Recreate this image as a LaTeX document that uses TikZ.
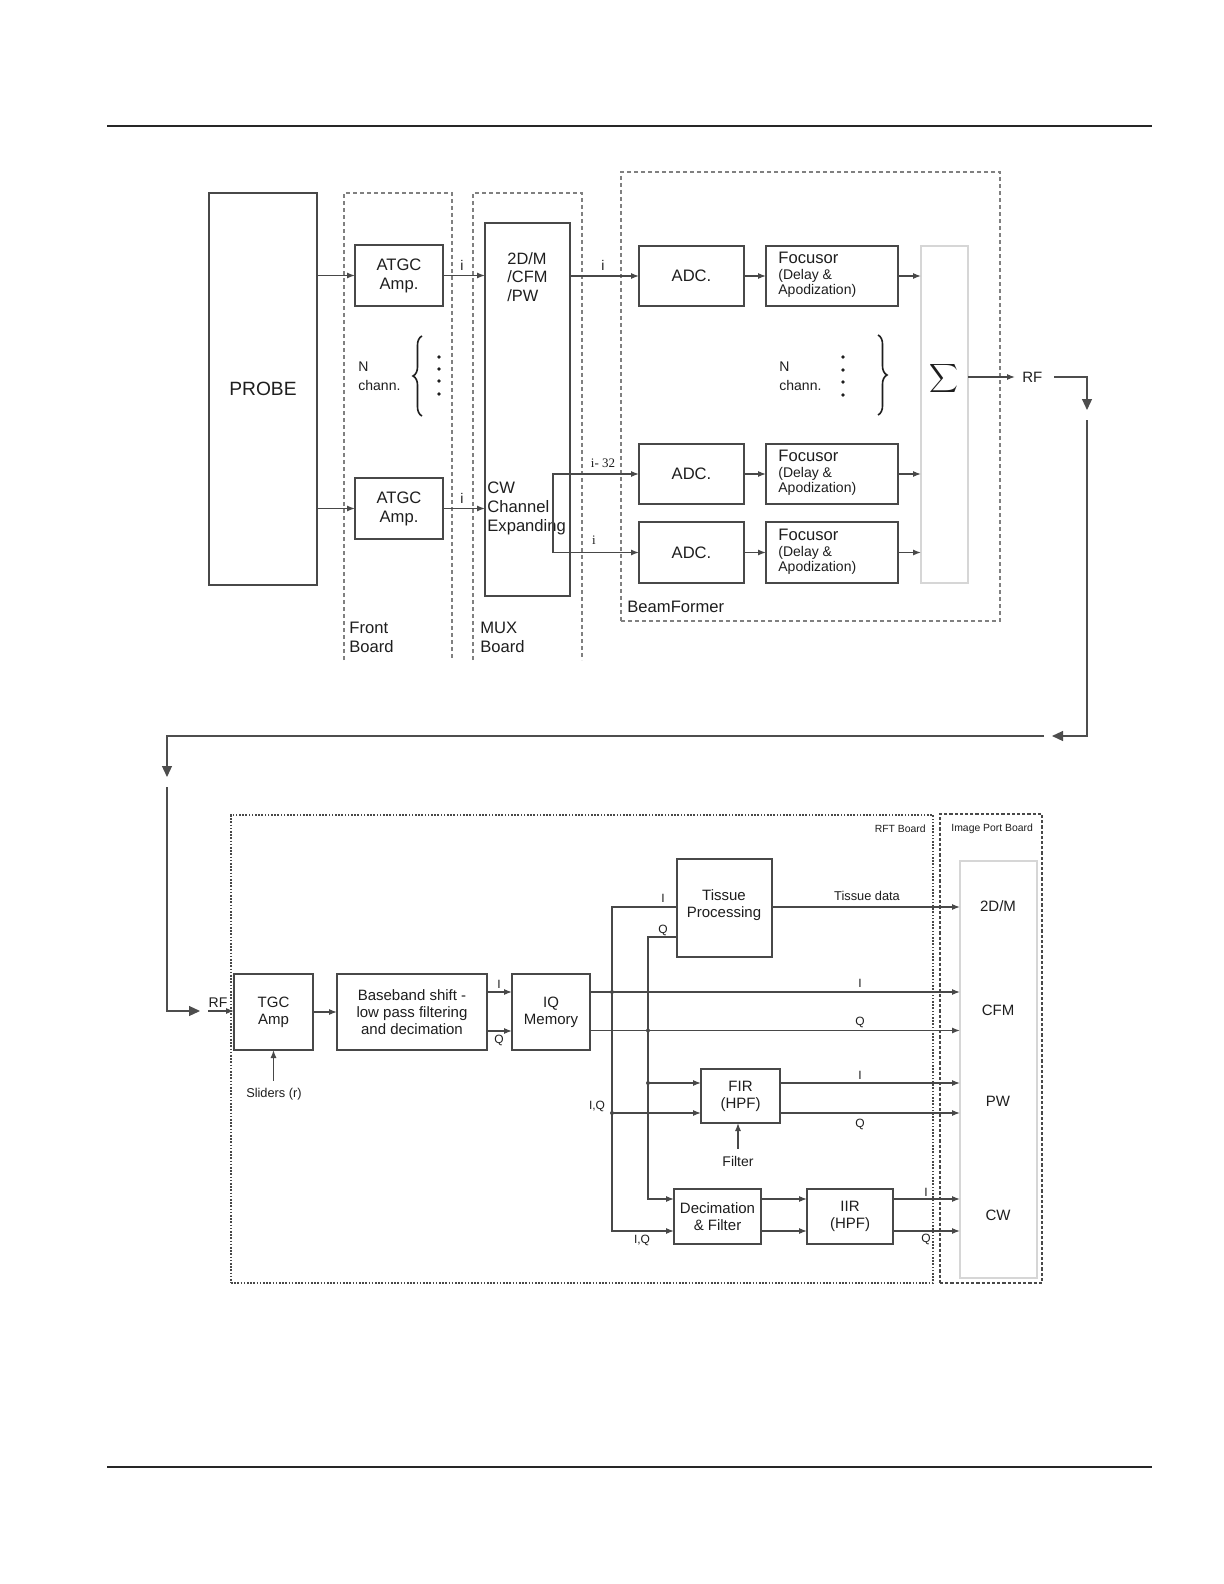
\documentclass[tikz,border=0pt]{standalone}
\usepackage{fontspec}
\setmainfont{Liberation Sans}
\newfontfamily\serifx{Liberation Serif}
\usetikzlibrary{arrows.meta,decorations.pathreplacing,fit,calc}
\definecolor{lc}{HTML}{484848}
\definecolor{tc}{HTML}{1E1E1E}
\definecolor{dc}{HTML}{808080}
\definecolor{pc}{HTML}{D6D6D6}
\definecolor{gc}{HTML}{4D4D4D}
% #1 options, #2 name, #3 x1, #4 y1, #5 x2, #6 y2, #7 text
\newcommand\bx[7]{%
  \pgfmathsetmacro\bxw{(#5-#3)*0.5}%
  \pgfmathsetmacro\bxh{(#6-#4)*0.5}%
  \node[#1, minimum width=\bxw pt, minimum height=\bxh pt] (#2) at ({(#3+#5)/2},{(#4+#6)/2}) {#7};}
\begin{document}
\begin{tikzpicture}[x=0.5pt,y=-0.5pt,
  every node/.style={text=tc},
  box/.style={draw=lc, line width=0.7pt, inner sep=0pt, outer sep=0pt, align=center},
  pbox/.style={draw=pc, line width=0.8pt, inner sep=0pt, outer sep=0pt},
  arr/.style={draw=lc, line width=0.6pt, -{Latex[length=4pt,width=3pt]}},
  bigarr/.style={draw=gc, line width=0.6pt, -{Triangle[length=5.5pt,width=5pt]}},
  board/.style={draw=dc, line width=0.7pt, dash pattern=on 2.2pt off 1.3pt},
  rftb/.style={draw=lc, line width=0.6pt, dash pattern=on 0.8pt off 0.8pt, inner sep=0pt, outer sep=0pt},
  ipbd/.style={draw=lc, line width=0.6pt, dash pattern=on 1.6pt off 1pt, inner sep=0pt, outer sep=0pt},
  fP/.style={font=\fontsize{9.6pt}{11pt}\selectfont},
  fA/.style={font=\fontsize{8.3pt}{9.5pt}\selectfont},
  fS/.style={font=\fontsize{8.2pt}{9.25pt}\selectfont},
  fB/.style={font=\fontsize{7pt}{8pt}\selectfont},
  fN/.style={font=\fontsize{7pt}{9.5pt}\selectfont},
  fC/.style={font=\fontsize{6.4pt}{7.5pt}\selectfont},
  fD/.style={font=\fontsize{7.5pt}{8.5pt}\selectfont},
  fL/.style={font=\fontsize{6pt}{7pt}\selectfont, inner sep=0pt},
  fT/.style={font=\fontsize{5.2pt}{6pt}\selectfont, inner sep=0pt},
  fR/.style={font=\fontsize{6.5pt}{7pt}\serifx, inner sep=0pt},
  brc/.style={draw=tc, line width=0.8pt, decorate, decoration={brace, amplitude=4.5pt}},
]
\useasboundingbox (0,0) rectangle (1224,1584);
\fill[white] (0,0) rectangle (1224,1584);

% page rules
\draw[line width=1.1pt, draw=black!85] (107,126) -- (1152,126);
\draw[line width=0.6pt, draw=black!85] (107,1467) -- (1152,1467);

% ===== top part =====
\draw[board] (344,660) -- (344,193) -- (452,193) -- (452,660);
\draw[board] (473,660) -- (473,193) -- (582,193) -- (582,660);
\bx{board, inner sep=0pt, outer sep=0pt}{bf}{621}{172}{1000}{621}{}
\node[fA, anchor=west, align=left, inner sep=0pt] (frontlbl) at (349,637) {Front\\Board};
\node[fA, anchor=west, align=left, inner sep=0pt] (muxlbl) at (480,637) {MUX\\Board};
\node[fA, anchor=west, inner sep=0pt] (bflbl) at (627,607) {BeamFormer};

\bx{box, fP}{probe}{209}{193}{317}{585}{PROBE}
\bx{box, fA}{atgc1}{355}{245}{443}{306}{ATGC\\Amp.}
\bx{box, fA}{atgc2}{355}{478}{443}{539}{ATGC\\Amp.}
\bx{box}{mux}{485}{223}{570}{596}{}
\node[fS, anchor=west, align=left, inner sep=0pt] (muxt) at (507,277) {2D/M\\/CFM\\/PW};
\node[fA, anchor=west, align=left, inner sep=0pt] (cwt) at (487,508) {CW\\Channel\\Expanding};

\bx{box, fA}{adc1}{639}{246}{744}{306}{ADC.}
\bx{box, fA}{adc2}{639}{444}{744}{504}{ADC.}
\bx{box, fA}{adc3}{639}{522}{744}{583}{ADC.}
\bx{box}{foc1}{766}{246}{898}{306}{}
\bx{box}{foc2}{766}{444}{898}{504}{}
\bx{box}{foc3}{766}{522}{898}{583}{}
\foreach \f in {foc1,foc2,foc3}{
  \node[fA, anchor=west, inner sep=0pt] at ([xshift=6pt,yshift=9pt]\f.west) {Focusor};
  \node[fB, anchor=west, inner sep=0pt] at ([xshift=6pt,yshift=0pt]\f.west) {(Delay \&};
  \node[fB, anchor=west, inner sep=0pt] at ([xshift=6pt,yshift=-7.5pt]\f.west) {Apodization)};
}
\bx{pbox}{sig}{921}{246}{968}{583}{}
\node (sigsym) at (944,378) {\fontsize{15pt}{15pt}\selectfont$\displaystyle\sum$};

% N chann.
\node[fN, anchor=west, align=left, inner sep=0pt] (nch1) at (358,376) {N\\chann.};
\draw[brc] (422,416) -- (422,336);
\foreach \yy in {357,369,381,394} \fill[tc] (439,\yy) circle (0.9pt);
\node[fN, anchor=west, align=left, inner sep=0pt] (nch2) at (779,376) {N\\chann.};
\draw[brc] (878,335) -- (878,415);
\foreach \yy in {357,370,382,395} \fill[tc] (843,\yy) circle (0.9pt);

% top connectors
\draw[arr] (probe.east |- atgc1.west) -- (atgc1.west);
\draw[arr] (probe.east |- atgc2.west) -- (atgc2.west);
\draw[arr] (atgc1.east) -- (mux.west |- atgc1.east);
\draw[arr] (atgc2.east) -- (mux.west |- atgc2.east);
\node[fB, inner sep=0pt] (il1) at (462,265) {i};
\node[fB, inner sep=0pt] (il2) at (462,498) {i};
\draw[arr] (mux.east |- adc1.west) -- (adc1.west);
\node[fB, inner sep=0pt] (il3) at (603,265) {i};
\coordinate (cwj1) at (553,474);
\coordinate (cwj2) at (553,552.5);
\draw[arr] (cwj2) -- (cwj1) -- (adc2.west);
\draw[arr] (cwj2) -- (adc3.west);
\node[fR] (il4) at (603,463) {i- 32};
\node[fR] (il5) at (594,540) {i};
\draw[arr] (adc1.east) -- (foc1.west);
\draw[arr] (adc2.east) -- (foc2.west);
\draw[arr] (adc3.east) -- (foc3.west);
\draw[arr] (foc1.east) -- (sig.west |- foc1.east);
\draw[arr] (foc2.east) -- (sig.west |- foc2.east);
\draw[arr] (foc3.east) -- (sig.west |- foc3.east);
\node[fD, anchor=west, inner xsep=3.5pt, inner ysep=0pt] (rf1) at (1015,377) {RF};
\draw[arr] (sig.east |- rf1.west) -- (rf1.west);

% loop connector
\coordinate (L1) at (1054,377);
\coordinate (L2) at (1087,377);
\coordinate (L3) at (1087,410);
\coordinate (L4) at (1087,420);
\coordinate (L5) at (1087,736);
\coordinate (L6) at (1052,736);
\coordinate (L7) at (1044,736);
\coordinate (L8) at (167,736);
\coordinate (L9) at (167,777);
\coordinate (L10) at (167,787);
\coordinate (L11) at (167,1011);
\coordinate (L12) at (200,1011);
\draw[bigarr] (L1) -- (L2) -- (L3);
\draw[bigarr] (L4) -- (L5) -- (L6);
\draw[bigarr] (L7) -- (L8) -- (L9);
\draw[bigarr] (L10) -- (L11) -- (L12);

% ===== bottom part =====
\bx{rftb}{rft}{231}{815}{933}{1283}{}
\bx{ipbd}{ipb}{940}{814}{1042}{1283}{}
\bx{pbox}{ipin}{960}{861}{1037}{1278}{}
\node[fT, anchor=east] (rftlbl) at (926,829) {RFT Board};
\node[fT, anchor=west] (iplbl) at (951,829) {Image Port Board};

\bx{box, fD}{tgc}{234}{974}{313}{1050}{TGC\\Amp}
\bx{box, fD}{bb}{337}{974}{487}{1050}{Baseband shift -\\low pass filtering\\and decimation}
\bx{box, fD}{iq}{512}{974}{590}{1050}{IQ\\Memory}
\bx{box, fD}{tis}{677}{859}{772}{957}{}
\node[fD, align=center, inner sep=0pt] (tist) at (724,905) {Tissue\\Processing};
\bx{box, fD}{fir}{701}{1069}{780}{1123}{FIR\\(HPF)}
\bx{box, fD}{dec}{674}{1189}{761}{1244}{Decimation\\\& Filter}
\bx{box, fD}{iir}{807}{1189}{893}{1244}{IIR\\(HPF)}

\node[fD] (o1) at (998,906) {2D/M};
\node[fD] (o2) at (998,1010) {CFM};
\node[fD] (o3) at (998,1101) {PW};
\node[fD] (o4) at (998,1215) {CW};

\node[fB, inner sep=0pt, anchor=south] (rf2) at (218,1008) {RF};
\coordinate (rfs) at (208,1011);
\draw[arr] (rfs) -- (tgc.west |- rfs);
\draw[arr] (tgc.east) -- (bb.west);
\draw[arr] ([yshift=10pt]bb.east) -- ([yshift=10pt]iq.west);
\draw[arr] ([yshift=-9.5pt]bb.east) -- ([yshift=-9.5pt]iq.west);
\node[fL] (lI0) at (499,984) {I};
\node[fL] (lQ0) at (499,1040) {Q};

\node[fC] (sl) at (274,1094) {Sliders (r)};
\draw[arr] (tgc.south |- sl.north) -- (tgc.south);
\node[fB] (flt) at (738,1161) {Filter};
\draw[arr] (flt.north) -- (flt.north |- fir.south);

\coordinate (b1t) at (612,907);
\coordinate (b2t) at (648,937);
\coordinate (b1a) at (612,992);
\coordinate (b2a) at (648,1030.5);
\coordinate (b2f) at (648,1083);
\coordinate (b1f) at (612,1113);
\coordinate (b2d) at (648,1199);
\coordinate (b1d) at (612,1231);

\draw[arr] (tis.west |- b1t) -- (b1t) -- (b1d) -- (dec.west |- b1d);
\draw[arr] (tis.west |- b2t) -- (b2t) -- (b2d) -- (dec.west |- b2d);
\draw[arr] (iq.east |- b1a) -- (ipin.west |- b1a);
\draw[arr] (iq.east |- b2a) -- (ipin.west |- b2a);
\draw[arr] (b2f) -- (fir.west |- b2f);
\draw[arr] (b1f) -- (fir.west |- b1f);
\draw[arr] (fir.east |- b2f) -- (ipin.west |- b2f);
\draw[arr] (fir.east |- b1f) -- (ipin.west |- b1f);
\draw[arr] (dec.east |- b2d) -- (iir.west |- b2d);
\draw[arr] (dec.east |- b1d) -- (iir.west |- b1d);
\draw[arr] (iir.east |- b2d) -- (ipin.west |- b2d);
\draw[arr] (iir.east |- b1d) -- (ipin.west |- b1d);
\draw[arr] (tis.east |- b1t) -- (ipin.west |- b1t);
\foreach \c in {b1a,b2a,b2f,b1f} \fill[lc] (\c) circle (1pt);

\node[fL] (lI1) at (663,898) {I};
\node[fL] (lQ1) at (663,930) {Q};
\node[fC, inner sep=0pt] (tdl) at (867,896) {Tissue data};
\node[fL] (lI2) at (860,983) {I};
\node[fL] (lQ2) at (860,1022) {Q};
\node[fL] (lI3) at (860,1075) {I};
\node[fL] (lQ3) at (860,1124) {Q};
\node[fL] (lI4) at (926,1192) {I};
\node[fL] (lQ4) at (926,1239) {Q};
\node[fL] (lIQ1) at (597,1106) {I,Q};
\node[fL] (lIQ2) at (642,1240) {I,Q};
\end{tikzpicture}
\end{document}
